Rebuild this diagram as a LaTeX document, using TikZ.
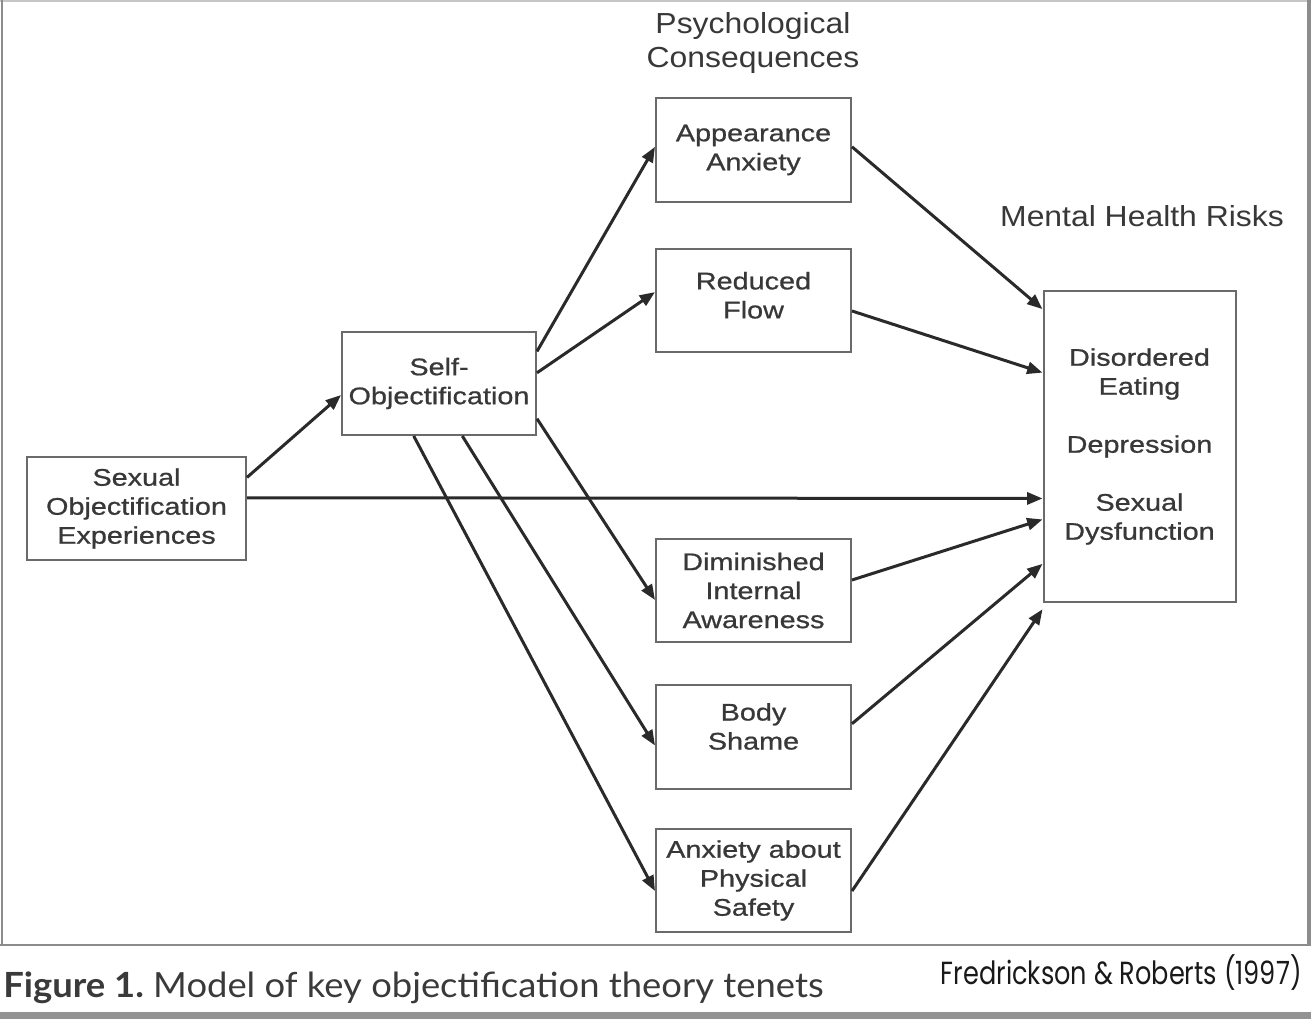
\documentclass[tikz,border=0pt]{standalone}
\usepackage{fontspec}
\setmainfont{Liberation Sans}
\newfontfamily\bxfont[FakeStretch=1.2,FakeBold=0.8]{Liberation Sans}
\newfontfamily\hdfont[FakeStretch=1.1]{Liberation Sans}
\newfontfamily\capfont[FakeStretch=1.05]{Lato}
\newfontfamily\citefont[FakeStretch=0.8]{Poppins}
\usetikzlibrary{arrows.meta,calc}
\definecolor{txt}{HTML}{383838}
\definecolor{boxc}{HTML}{6A6A6A}
\definecolor{arrc}{HTML}{2A2A2A}
\definecolor{capc}{HTML}{3A3A3A}
\begin{document}
\begin{tikzpicture}[x=0.75pt,y=-0.75pt,
  bx/.style={draw=boxc, line width=1.5pt, align=center, inner sep=0pt, text=txt,
    font=\bxfont\fontsize{18}{21.75}\selectfont},
  arr/.style={draw=arrc, line width=2.25pt, -{Triangle[length=11.5pt,width=9pt]}},
  hd/.style={align=center, text=txt, inner sep=0pt, font=\hdfont\fontsize{21.75}{25}\selectfont}]
\useasboundingbox (0,0) rectangle (1311,1019);
% frame
\draw[color=gray!45, line width=1.5pt] (0,1) -- (1311,1);
\draw[color=gray!110!black, line width=1.8pt] (2,0) -- (2,945);
\draw[color=gray!90, line width=2.5pt] (1309,0) -- (1309,945);
\draw[color=gray!90, line width=1.8pt] (0,945) -- (1311,945);
\fill[gray!85] (0,1012) rectangle (1311,1019);
% headers
\node[hd] (hpc) at (753,43) {Psychological\\Consequences};
\node[hd] (hmh) at (1142,216) {Mental Health Risks};
% boxes
\node[bx, minimum width=164.25pt, minimum height=77.25pt] (soe) at (136.5,508.5) {Sexual\\Objectification\\Experiences};
\node[bx, minimum width=145.5pt, minimum height=77.25pt] (self) at (439,383.5) {Self-\\Objectification};
\node[bx, minimum width=146.25pt, minimum height=78pt] (aa) at (753.5,150) {Appearance\\Anxiety};
\node[bx, minimum width=146.25pt, minimum height=77.25pt, text depth=8pt] (rf) at (753.5,300.5) {Reduced\\Flow};
\node[bx, minimum width=146.25pt, minimum height=77.25pt] (dia) at (753.5,590.5) {Diminished\\Internal\\Awareness};
\node[bx, minimum width=146.25pt, minimum height=78pt, text depth=16pt] (bs) at (753.5,737) {Body\\Shame};
\node[bx, minimum width=146.25pt, minimum height=77.25pt] (aps) at (753.5,880.5) {Anxiety about\\Physical\\Safety};
\node[bx, minimum width=144pt, minimum height=233.25pt] (mhr) at (1139.5,446.5) {Disordered\\Eating\\[21.75pt]Depression\\[21.75pt]Sexual\\Dysfunction};
% arrows
\draw[arr] ($(soe.north east)!0.204!(soe.south east)$) -- ($(self.north west)!0.61!(self.south west)$);
\draw[arr] ($(soe.north east)!0.398!(soe.south east)$) -- ($(mhr.north west)!0.666!(mhr.south west)$);
\draw[arr] ($(self.north east)!0.194!(self.south east)$) -- ($(aa.north west)!0.47!(aa.south west)$);
\draw[arr] ($(self.north east)!0.398!(self.south east)$) -- ($(rf.north west)!0.42!(rf.south west)$);
\draw[arr] ($(self.north east)!0.835!(self.south east)$) -- ($(dia.north west)!0.59!(dia.south west)$);
\draw[arr] ($(self.south west)!0.619!(self.south east)$) -- ($(bs.north west)!0.58!(bs.south west)$);
\draw[arr] ($(self.south west)!0.371!(self.south east)$) -- ($(aps.north west)!0.60!(aps.south west)$);
\draw[arr] ($(aa.north east)!0.47!(aa.south east)$) -- ($(mhr.north west)!0.061!(mhr.south west)$);
\draw[arr] ($(rf.north east)!0.60!(rf.south east)$) -- ($(mhr.north west)!0.264!(mhr.south west)$);
\draw[arr] ($(dia.north east)!0.40!(dia.south east)$) -- ($(mhr.north west)!0.733!(mhr.south west)$);
\draw[arr] ($(bs.north east)!0.375!(bs.south east)$) -- ($(mhr.north west)!0.875!(mhr.south west)$);
\draw[arr] ($(aps.north east)!0.60!(aps.south east)$) -- ($(mhr.north west)!1.02!(mhr.south west)$);
% caption
\node[anchor=base west, inner sep=0pt, text=capc] (cap) at (3,997) {\capfont\fontsize{26}{30}\selectfont\bfseries Figure 1.\mdseries\ Model of key objectification theory tenets};
\node[anchor=base east, inner sep=0pt, text=black!90] (cite) at (1302,984) {\citefont\fontsize{24}{28}\selectfont Fredrickson \& Roberts (1997)};
\end{tikzpicture}
\end{document}
